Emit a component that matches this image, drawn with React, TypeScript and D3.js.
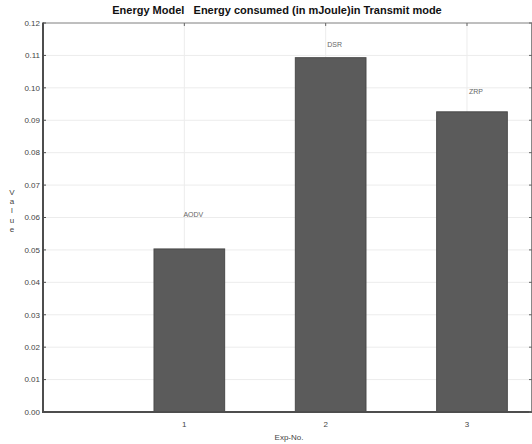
import React from "react";
import * as d3 from "d3";

const categories = ["1", "2", "3"];
const protocols = ["AODV", "DSR", "ZRP"];
const values = [0.0503, 0.1093, 0.0926];
const labelValues = [0.0608, 0.1133, 0.0988];
const yTicks = [0, 0.01, 0.02, 0.03, 0.04, 0.05, 0.06, 0.07, 0.08, 0.09, 0.1, 0.11, 0.12];

const W = 532, H = 444;
const L = 43, R = 532, T = 23, B = 412;
const FONT = "'Liberation Sans', Arial, Helvetica, sans-serif";

export default function App() {
  const x = d3.scaleLinear().domain([0, 3.46]).range([L, R]);
  const y = d3.scaleLinear().domain([0, 0.12]).range([B, T]);
  const bw = x(0.5) - x(0);
  const shift = 5;
  const fmt = d3.format(".2f");
  return (
    <svg width={W} height={H} style={{ position: "absolute", left: 0, top: 0, background: "#fff" }}>
      <rect x={0} y={0} width={W} height={H} fill="#fff" />
      {yTicks.map((t) => (
        <line key={"g" + t} x1={L} x2={R} y1={y(t)} y2={y(t)} stroke="#ececec" strokeWidth={1} />
      ))}
      {categories.map((c, i) => (
        <line key={"vg" + c} x1={x(i + 1)} x2={x(i + 1)} y1={T} y2={B} stroke="#ececec" strokeWidth={1} />
      ))}
      {values.map((v, i) => (
        <rect key={"b" + i} x={x(i + 1) - bw / 2 + shift} y={y(v)} width={bw} height={B - y(v)}
          fill="#5b5b5b" stroke="#4a4a4a" strokeWidth={1} />
      ))}
      {protocols.map((p, i) => (
        <text key={"l" + p} x={x(i + 1) + shift + 4} y={y(labelValues[i])} dy="0.35em" textAnchor="middle"
          fontFamily={FONT} fontSize={7} fill="#666">{p}</text>
      ))}
      {/* frame */}
      <line x1={L} x2={R} y1={T} y2={T} stroke="#888" strokeWidth={1} />
      <line x1={R - 0.5} x2={R - 0.5} y1={T} y2={B} stroke="#888" strokeWidth={1} />
      <line x1={L} x2={L} y1={T - 0.5} y2={B + 1} stroke="#4d4d4d" strokeWidth={2} />
      <line x1={L} x2={R} y1={B} y2={B} stroke="#4d4d4d" strokeWidth={2} />
      {yTicks.map((t) => (
        <g key={"t" + t}>
          <line x1={L} x2={L + 3} y1={y(t)} y2={y(t)} stroke="#4d4d4d" strokeWidth={1} />
          <line x1={R - 3} x2={R} y1={y(t)} y2={y(t)} stroke="#666" strokeWidth={1} />
          <text x={L - 3} y={y(t)} dy="0.35em" textAnchor="end" fontFamily={FONT} fontSize={8} fill="#444">{fmt(t)}</text>
        </g>
      ))}
      {categories.map((c, i) => (
        <g key={"xt" + c}>
          <line x1={x(i + 1)} x2={x(i + 1)} y1={T} y2={T + 3} stroke="#666" strokeWidth={1} />
          <text x={x(i + 1)} y={424} dy="0.35em" textAnchor="middle" fontFamily={FONT} fontSize={8} fill="#444">{c}</text>
        </g>
      ))}
      <text x={289} y={437} dy="0.35em" textAnchor="middle" fontFamily={FONT} fontSize={8} fill="#444">Exp-No.</text>
      {"Value".split("").map((ch, i) => (
        <text key={"v" + i} x={12} y={192 + i * 9.3} dy="0.35em" textAnchor="middle" fontFamily={FONT} fontSize={8} fill="#444">{ch}</text>
      ))}
      <text x={277} y={14} textAnchor="middle" fontFamily={FONT} fontSize={11} fontWeight="bold" fill="#111">
        {"Energy Model\u00a0\u00a0\u00a0Energy consumed (in mJoule)in Transmit mode"}
      </text>
    </svg>
  );
}
